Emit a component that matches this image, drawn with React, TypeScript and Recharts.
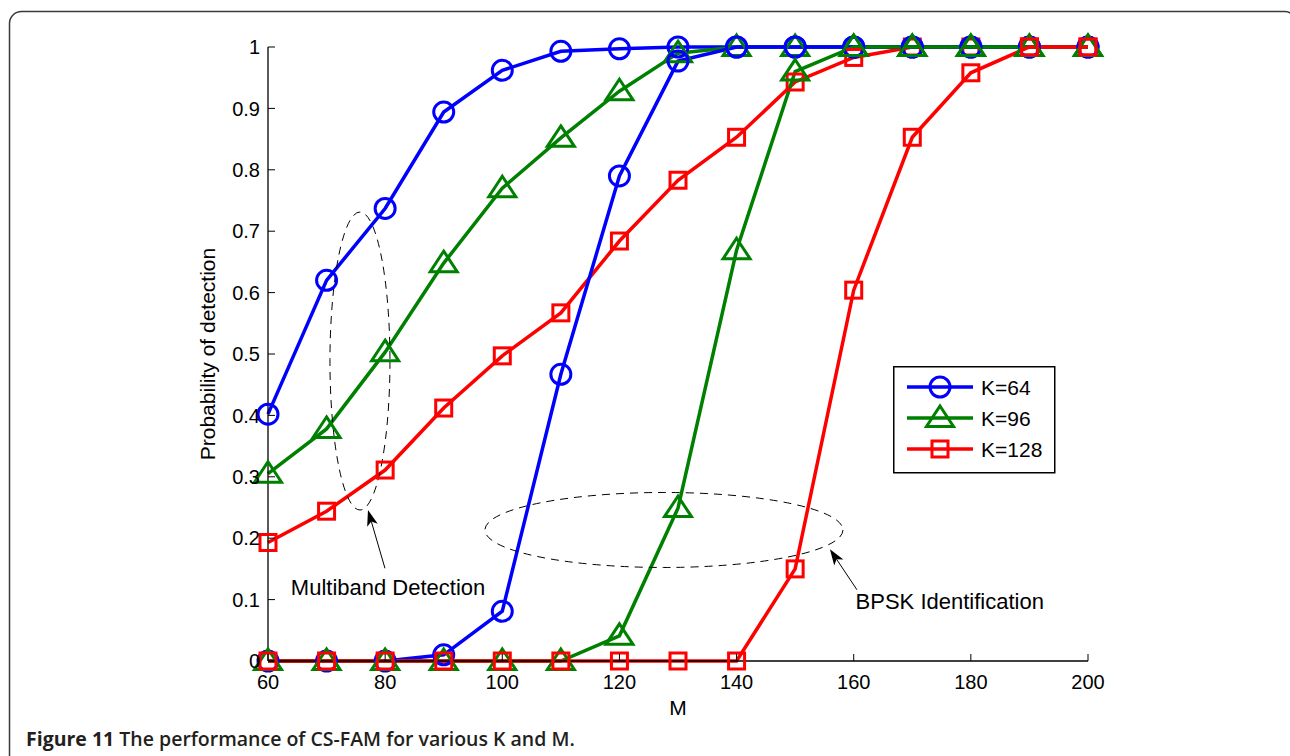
import React from 'react';
import { LineChart, Line, XAxis, YAxis, Legend, ReferenceDot, ReferenceLine } from 'recharts';

const M = [60, 70, 80, 90, 100, 110, 120, 130, 140, 150, 160, 170, 180, 190, 200];
const k64Detection = [0.402, 0.62, 0.737, 0.894, 0.962, 0.993, 0.997, 1, 1, 1, 1, 1, 1, 1, 1];
const k64Identification = [0, 0, 0, 0.01, 0.081, 0.467, 0.79, 0.977, 1, 1, 1, 1, 1, 1, 1];
const k96Detection = [0.305, 0.378, 0.503, 0.648, 0.77, 0.852, 0.928, 0.99, 1, 1, 1, 1, 1, 1, 1];
const k96Identification = [0, 0, 0, 0, 0, 0, 0.041, 0.249, 0.669, 0.96, 1, 1, 1, 1, 1];
const k128Detection = [0.193, 0.244, 0.311, 0.412, 0.497, 0.567, 0.684, 0.783, 0.853, 0.943, 0.983, 1, 1, 1, 1];
const k128Identification = [0, 0, 0, 0, 0, 0, 0, 0, 0, 0.15, 0.604, 0.853, 0.958, 1, 1];

const xTicks = [60, 80, 100, 120, 140, 160, 180, 200];
const yTicks = [0, 0.1, 0.2, 0.3, 0.4, 0.5, 0.6, 0.7, 0.8, 0.9, 1];

const FONT = '"Liberation Sans", Arial, Helvetica, sans-serif';
const TICK_LEN = 7;

type Shape = 'circle' | 'triangle' | 'square';

const seriesInfo: { name: string; color: string; shape: Shape }[] = [
  { name: 'K=64', color: '#0000ff', shape: 'circle' },
  { name: 'K=96', color: '#008000', shape: 'triangle' },
  { name: 'K=128', color: '#ff0000', shape: 'square' },
];

const data = M.map((m, i) => ({
  M: m,
  k64det: k64Detection[i],
  k96det: k96Detection[i],
  k128det: k128Detection[i],
  k64id: k64Identification[i],
  k96id: k96Identification[i],
  k128id: k128Identification[i],
}));

function Marker({ shape, cx, cy, color }: { shape: Shape; cx?: number; cy?: number; color: string }) {
  if (cx == null || cy == null || isNaN(cx) || isNaN(cy)) return null;
  const common = { fill: 'none', stroke: color, strokeWidth: 3 };
  if (shape === 'circle') return <circle cx={cx} cy={cy} r={10} {...common} />;
  if (shape === 'triangle')
    return (
      <path
        d={`M${cx},${cy - 12} L${cx + 13.5},${cy + 8.5} L${cx - 13.5},${cy + 8.5} Z`}
        {...common}
        strokeLinejoin="miter"
      />
    );
  return <rect x={cx - 8} y={cy - 8} width={16} height={16} {...common} />;
}

const lineDefs = [
  { key: 'k64det', s: 0, legend: true },
  { key: 'k96det', s: 1, legend: true },
  { key: 'k128det', s: 2, legend: true },
  { key: 'k64id', s: 0, legend: false },
  { key: 'k96id', s: 1, legend: false },
  { key: 'k128id', s: 2, legend: false },
];

const renderLegend = () => (
  <svg width={163} height={108} style={{ display: 'block' }}>
    <rect x={0.75} y={0.75} width={161} height={106} fill="#fff" stroke="#000" strokeWidth={1.5} />
    {seriesInfo.map((s, i) => {
      const y = 21 + i * 31;
      return (
        <g key={s.name}>
          <line x1={14} x2={80} y1={y} y2={y} stroke={s.color} strokeWidth={3.5} />
          <Marker shape={s.shape} cx={47} cy={y} color={s.color} />
          <text x={88} y={y + 7.5} fontSize={21} fontFamily={FONT} fill="#000">
            {s.name}
          </text>
        </g>
      );
    })}
  </svg>
);

// Tick renderers: labels outside, tick marks pointing into the plot (MATLAB style)
const BottomTick = (p: any) => (
  <g>
    <line x1={p.x} x2={p.x} y1={p.y - 14} y2={p.y - 14 - TICK_LEN} stroke="#000" strokeWidth={1} />
    <text x={p.x} y={p.y} dy="0.72em" textAnchor="middle" fontSize={20} fontFamily={FONT} fill="#000">
      {p.payload.value}
    </text>
  </g>
);
const LeftTick = (p: any) => (
  <g>
    <line x1={p.x + 8} x2={p.x + 8 + TICK_LEN} y1={p.y} y2={p.y} stroke="#000" strokeWidth={1} />
    <text x={p.x} y={p.y} dy="0.36em" textAnchor="end" fontSize={20} fontFamily={FONT} fill="#000">
      {String(p.payload.value)}
    </text>
  </g>
);
const TopTick = (p: any) => <line x1={p.x} x2={p.x} y1={p.y} y2={p.y + TICK_LEN} stroke="#000" strokeWidth={1} />;
const RightTick = (p: any) => <line x1={p.x} x2={p.x - TICK_LEN} y1={p.y} y2={p.y} stroke="#000" strokeWidth={1} />;

const Arrow = (props: any) => {
  const { x1, y1, x2, y2 } = props;
  if ([x1, y1, x2, y2].some((v) => v == null || isNaN(v))) return null;
  const dx = x2 - x1;
  const dy = y2 - y1;
  const len = Math.sqrt(dx * dx + dy * dy);
  const ux = dx / len;
  const uy = dy / len;
  const hl = 16;
  const hw = 5.5;
  const bx = x2 - ux * hl;
  const by = y2 - uy * hl;
  const notchX = x2 - ux * hl * 0.75;
  const notchY = y2 - uy * hl * 0.75;
  return (
    <g>
      <line x1={x1} y1={y1} x2={notchX} y2={notchY} stroke="#000" strokeWidth={1} />
      <path
        d={`M${x2},${y2} L${bx - uy * hw},${by + ux * hw} L${notchX},${notchY} L${bx + uy * hw},${by - ux * hw} Z`}
        fill="#000"
      />
    </g>
  );
};

const ellipseShape = (rx: number, ry: number, rot: number) => (p: any) =>
  p.cx == null ? null : (
    <ellipse
      cx={p.cx}
      cy={p.cy}
      rx={rx}
      ry={ry}
      fill="none"
      stroke="#000"
      strokeWidth={1}
      strokeDasharray="8 6"
      transform={`rotate(${rot} ${p.cx} ${p.cy})`}
    />
  );

const textShape = (label: string) => (p: any) =>
  p.cx == null ? null : (
    <text x={p.cx} y={p.cy} textAnchor="middle" fontSize={22} fontFamily={FONT} fill="#000">
      {label}
    </text>
  );

const axisLineStyle = { stroke: '#000', strokeWidth: 1.3 };

export default function App() {
  return (
    <div style={{ position: 'absolute', left: 0, top: 0, width: 1290, height: 756, background: '#fff' }}>
      <svg width={1290} height={756} style={{ position: 'absolute', left: 0, top: 0 }}>
        <rect x={9.5} y={11.5} width={1287} height={800} rx={12} ry={12} fill="none" stroke="#3a3a3a" strokeWidth={1.5} />
        <text x={26} y={746} fontFamily='"Open Sans", "Noto Sans", sans-serif' fontWeight={700} fontSize={19.5} fill="#231f20">
          Figure 11 <tspan fontWeight={600}>The performance of CS-FAM for various K and M.</tspan>
        </text>
      </svg>
      <div style={{ position: 'absolute', left: 0, top: 0 }}>
        <LineChart width={1290} height={756} data={data} margin={{ top: 47, right: 202, bottom: 55, left: 208 }}>
          <XAxis
            dataKey="M"
            type="number"
            domain={[60, 200]}
            ticks={xTicks}
            interval={0}
            height={40}
            tickSize={0}
            tickMargin={14}
            tickLine={false}
            axisLine={axisLineStyle}
            tick={BottomTick}
            label={{
              content: (p: any) => {
                const vb = p.viewBox || {};
                return (
                  <text x={vb.x + vb.width / 2} y={vb.y + 54} textAnchor="middle" fontSize={21} fontFamily={FONT} fill="#000">
                    M
                  </text>
                );
              },
            }}
          />
          <XAxis
            xAxisId="top"
            orientation="top"
            dataKey="M"
            type="number"
            domain={[60, 200]}
            ticks={xTicks}
            interval={0}
            height={0}
            tickSize={0}
            tickMargin={0}
            tickLine={false}
            tick={TopTick}
            axisLine={axisLineStyle}
          />
          <YAxis
            type="number"
            domain={[0, 1]}
            ticks={yTicks}
            interval={0}
            width={60}
            tickSize={0}
            tickMargin={8}
            tickLine={false}
            axisLine={axisLineStyle}
            tick={LeftTick}
            label={{
              content: (p: any) => {
                const vb = p.viewBox || {};
                const x = vb.x + 7;
                const y = vb.y + vb.height / 2;
                return (
                  <text x={x} y={y} textAnchor="middle" fontSize={21} fontFamily={FONT} fill="#000" transform={`rotate(-90 ${x} ${y})`}>
                    Probability of detection
                  </text>
                );
              },
            }}
          />
          <YAxis
            yAxisId="right"
            orientation="right"
            type="number"
            domain={[0, 1]}
            ticks={yTicks}
            interval={0}
            width={0}
            tickSize={0}
            tickMargin={0}
            tickLine={false}
            tick={RightTick}
            axisLine={axisLineStyle}
          />
          {lineDefs.map((d) => {
            const s = seriesInfo[d.s];
            return (
              <Line
                key={d.key}
                dataKey={d.key}
                name={s.name}
                type="linear"
                stroke={s.color}
                strokeWidth={3.5}
                isAnimationActive={false}
                legendType={d.legend ? 'line' : 'none'}
                activeDot={false}
                dot={(p: any) => <Marker key={`${d.key}-${p.index}`} shape={s.shape} cx={p.cx} cy={p.cy} color={s.color} />}
              />
            );
          })}
          <ReferenceDot x={75.7} y={0.4886} r={1} shape={ellipseShape(30, 149, 0)} />
          <ReferenceDot x={127.6} y={0.2134} r={1} shape={ellipseShape(179, 37.5, 0)} />
          <ReferenceLine
            segment={[
              { x: 79.97, y: 0.151 },
              { x: 77.07, y: 0.246 },
            ]}
            shape={Arrow}
          />
          <ReferenceLine
            segment={[
              { x: 160.55, y: 0.116 },
              { x: 155.94, y: 0.182 },
            ]}
            shape={Arrow}
          />
          <ReferenceDot x={80.5} y={0.108} r={1} shape={textShape('Multiband Detection')} />
          <ReferenceDot x={176.4} y={0.084} r={1} shape={textShape('BPSK Identification')} />
          <Legend
            layout="vertical"
            align="center"
            verticalAlign="middle"
            content={renderLegend}
            wrapperStyle={{ position: 'absolute', left: 893, top: 366, width: 163, height: 108 }}
          />
        </LineChart>
      </div>
    </div>
  );
}
